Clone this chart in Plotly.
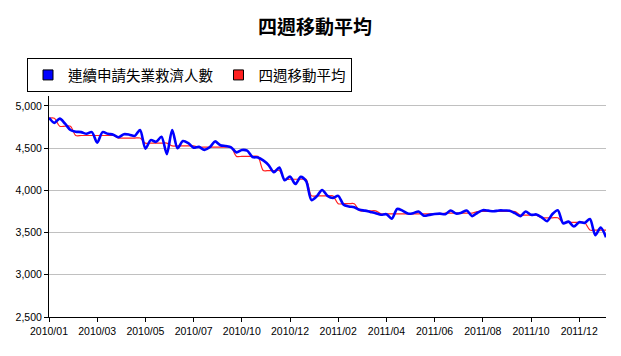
import pandas as pd
import plotly.graph_objects as go

# weekly categories (week ending dates)
week_dates = [d.strftime("%Y/%m/%d") for d in pd.date_range("2010-01-23", periods=105, freq="7D")]

tick_labels = ["2010/01", "2010/03", "2010/05", "2010/07", "2010/10", "2010/12",
               "2011/02", "2011/04", "2011/06", "2011/08", "2011/10", "2011/12"]

continuing_claims = [
    4860, 4800, 4850, 4790, 4715, 4695, 4690, 4670, 4690, 4565,
    4690, 4670, 4660, 4630, 4665, 4660, 4645, 4715, 4495, 4595,
    4575, 4635, 4430, 4715, 4500, 4585, 4560, 4505, 4515, 4480,
    4510, 4580, 4535, 4525, 4510, 4450, 4478, 4470, 4395, 4390,
    4355, 4300, 4215, 4270, 4120, 4165, 4075, 4160, 4110, 3885,
    3930, 4005, 3935, 3910, 3935, 3830, 3810, 3800, 3770, 3760,
    3745, 3730, 3712, 3718, 3665, 3780, 3760, 3725, 3730, 3750,
    3700, 3710, 3720, 3725, 3718, 3762, 3725, 3735, 3762, 3695,
    3735, 3765, 3760, 3752, 3762, 3762, 3760, 3730, 3695, 3750,
    3710, 3715, 3680, 3635, 3720, 3765, 3610, 3630, 3572, 3623,
    3615, 3660, 3470, 3560, 3445,
]

four_week_avg = (
    [4855, 4855, 4760, 4760, 4760]
    + [4650] * 8
    + [4620] * 5
    + [4560] * 5
    + [4527] * 5
    + [4512] * 7
    + [4403] * 5
    + [4235] * 4
    + [4132] * 5
    + [3935] * 5
    + [3842] * 4
    + [3758] * 4
    + [3722] * 12
    + [3730] * 6
    + [3750] * 8
    + [3707] * 4
    + [3675] * 4
    + [3620] * 5
    + [3530] * 4
)

series_names = ["連續申請失業救濟人數", "四週移動平均"]
series_colors = ["#0000ff", "#ff2020"]

fig = go.Figure()
fig.add_trace(go.Scatter(x=week_dates, y=four_week_avg, mode="lines",
                         line=dict(color=series_colors[1], width=1.2, shape="spline", smoothing=0.8),
                         showlegend=False, name=series_names[1]))
fig.add_trace(go.Scatter(x=week_dates, y=continuing_claims, mode="lines",
                         line=dict(color=series_colors[0], width=2.6, shape="spline", smoothing=0.8),
                         showlegend=False, name=series_names[0]))
# legend entries with square swatches
for name, col in zip(series_names, series_colors):
    fig.add_trace(go.Scatter(x=[None], y=[None], mode="markers", name=name,
                             marker=dict(symbol="square", size=10, color=col,
                                         line=dict(color="black", width=1))))

tickvals = [week_dates[i] for i in range(0, 105, 9)][:len(tick_labels)]

# the page body adds an 8px offset, so the figure is 613x348
W, H = 613, 348
fig.update_layout(
    width=W, height=H,
    margin=dict(l=41, r=15, t=88, b=39, autoexpand=False),
    paper_bgcolor="white", plot_bgcolor="white",
    font=dict(family="Liberation Sans, Arial, sans-serif", size=11, color="black"),
    title=dict(text="<b>四週移動平均</b>", x=307 / W, xref="container", xanchor="center",
               y=1 - 19 / H, yref="container", yanchor="middle",
               font=dict(family="Noto Sans CJK TC", size=19, color="black")),
    legend=dict(orientation="h", x=-22 / 557, xanchor="left", y=1 + 38 / 221, yanchor="top",
                bordercolor="black", borderwidth=1, bgcolor="white",
                font=dict(family="Noto Sans CJK TC", size=14.5, color="black"),
                itemwidth=30, tracegroupgap=0),
    xaxis=dict(type="category", range=[0, 104], tickvals=tickvals, ticktext=tick_labels,
               showgrid=False, showline=True, linecolor="black", linewidth=1,
               ticks="outside", ticklen=4, tickcolor="black", zeroline=False, automargin=False,
               tickfont=dict(family="Liberation Sans, Arial", size=10.5, color="black")),
    yaxis=dict(range=[2500, 5118], dtick=500, tick0=2500, tickformat=",d",
               showgrid=True, gridcolor="#c0c0c0", gridwidth=1,
               showline=True, linecolor="black", linewidth=1, automargin=False,
               ticks="outside", ticklen=4, tickcolor="black", zeroline=False,
               tickfont=dict(family="Liberation Sans, Arial", size=10.5, color="black")),
)

fig.write_html("out.html")
